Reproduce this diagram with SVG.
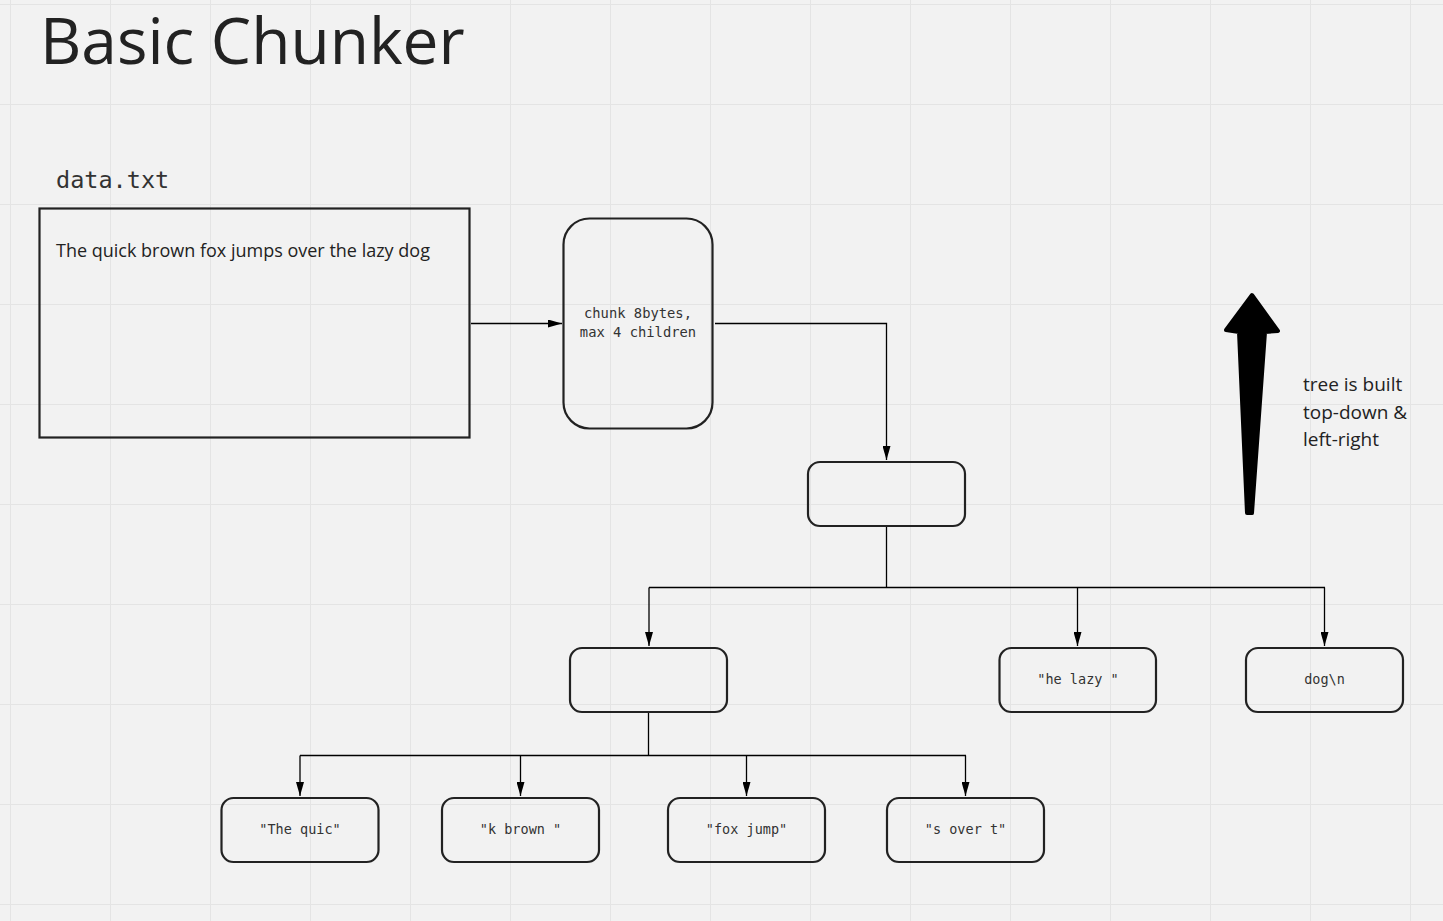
<svg xmlns="http://www.w3.org/2000/svg" width="1443" height="921" viewBox="0 0 1443 921">
<defs>
<pattern id="grid" x="10" y="4" width="100" height="100" patternUnits="userSpaceOnUse">
<path d="M0.5 0 V100 M0 0.5 H100" fill="none" stroke="#e4e4e4" stroke-width="1"/>
</pattern>
<marker id="ah" markerUnits="userSpaceOnUse" markerWidth="14" markerHeight="8" refX="14" refY="4" orient="auto">
<path d="M0 0 L14 4 L0 8 Z" fill="#000"/>
</marker>
</defs>
<style>
.node{fill:none;stroke:#222;stroke-width:2.2}
.conn{fill:none;stroke:#000;stroke-width:1.3}
.mono{font-family:"DejaVu Sans Mono","Liberation Mono",monospace;fill:#333}
.sans{font-family:"Open Sans","Noto Sans",sans-serif;fill:#222}
.leaf{font-size:13.5px;text-anchor:middle}
</style>
<rect width="1443" height="921" fill="#f2f2f2"/>
<rect width="1443" height="921" fill="url(#grid)"/>

<text class="sans" x="40" y="64" font-size="64" fill="#1a1a1a">Basic Chunker</text>

<g id="data-file">
<text class="mono" x="56" y="188" font-size="23.5" fill="#222">data.txt</text>
<rect x="39.5" y="208.5" width="430" height="229" fill="none" stroke="#222" stroke-width="2.2"/>
<text class="sans" x="56" y="257" font-size="18" fill="#333">The quick brown fox jumps over the lazy dog</text>
</g>

<g id="chunker">
<rect class="node" x="563.5" y="218.5" width="149" height="210" rx="26"/>
<text class="mono" x="638" y="318" font-size="13.8" text-anchor="middle">chunk 8bytes,</text>
<text class="mono" x="638" y="337" font-size="13.8" text-anchor="middle">max 4 children</text>
</g>

<g id="root">
<rect class="node" x="808" y="462" width="157" height="64" rx="12"/>
</g>

<g id="internal">
<rect class="node" x="570" y="648" width="157" height="64" rx="12"/>
</g>

<g id="leaf-he-lazy">
<rect class="node" x="999.5" y="648" width="156.5" height="64" rx="12"/>
<text class="mono leaf" x="1078" y="684">"he lazy "</text>
</g>

<g id="leaf-dog">
<rect class="node" x="1246" y="648" width="157" height="64" rx="12"/>
<text class="mono leaf" x="1324.5" y="684">dog\n</text>
</g>

<g id="leaf-the-quic">
<rect class="node" x="221.5" y="798" width="157" height="64" rx="12"/>
<text class="mono leaf" x="300" y="834">"The quic"</text>
</g>

<g id="leaf-k-brown">
<rect class="node" x="442" y="798" width="157" height="64" rx="12"/>
<text class="mono leaf" x="520.5" y="834">"k brown "</text>
</g>

<g id="leaf-fox-jump">
<rect class="node" x="668" y="798" width="157" height="64" rx="12"/>
<text class="mono leaf" x="746.5" y="834">"fox jump"</text>
</g>

<g id="leaf-s-over-t">
<rect class="node" x="887" y="798" width="157" height="64" rx="12"/>
<text class="mono leaf" x="965.5" y="834">"s over t"</text>
</g>

<g id="connectors">
<path class="conn" d="M471 323.5 H562" marker-end="url(#ah)"/>
<path class="conn" d="M715 323.5 H886.5 V460" marker-end="url(#ah)"/>
<path class="conn" d="M886.5 527 V587.5"/>
<path class="conn" d="M649 587.5 H1325"/>
<path class="conn" d="M649 587.5 V646" marker-end="url(#ah)"/>
<path class="conn" d="M1077.5 587.5 V646" marker-end="url(#ah)"/>
<path class="conn" d="M1324.5 587.5 V646" marker-end="url(#ah)"/>
<path class="conn" d="M648.5 713 V755.5"/>
<path class="conn" d="M300 755.5 H966"/>
<path class="conn" d="M300 755.5 V796" marker-end="url(#ah)"/>
<path class="conn" d="M520.5 755.5 V796" marker-end="url(#ah)"/>
<path class="conn" d="M746.5 755.5 V796" marker-end="url(#ah)"/>
<path class="conn" d="M965.5 755.5 V796" marker-end="url(#ah)"/>
</g>

<g id="direction-arrow">
<path d="M1252 295 L1278 331 L1265 332 L1252 513 L1247 513 L1239 332 L1226 330 Z" fill="#000" stroke="#000" stroke-width="4" stroke-linejoin="round"/>
</g>
<g id="direction-note">
<text class="sans" font-size="19" fill="#333"><tspan x="1303" y="391">tree is built</tspan><tspan x="1303" y="418.5">top-down &amp;</tspan><tspan x="1303" y="446">left-right</tspan></text>
</g>
</svg>
